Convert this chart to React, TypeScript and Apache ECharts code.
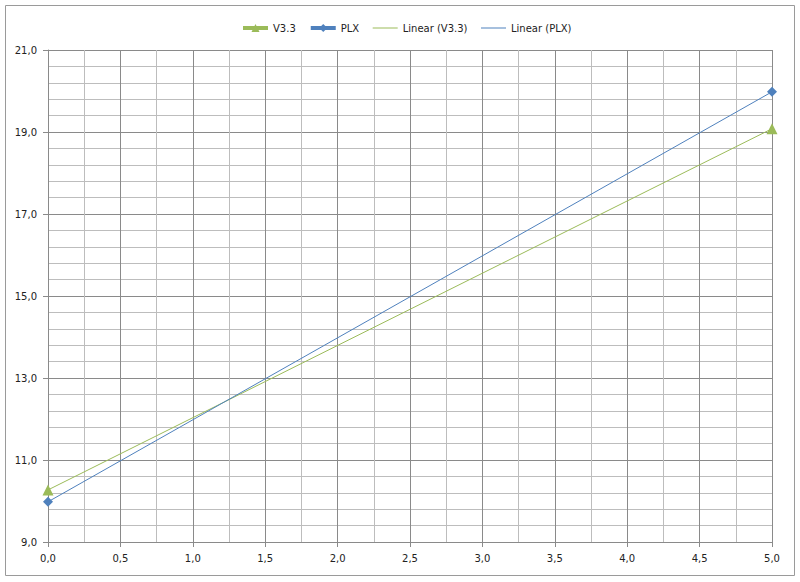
import React, { useEffect, useRef } from "react";
import * as echarts from "echarts";

const xValues = [0, 5];
const v33Values = [10.27, 19.08];
const plxValues = [9.98, 19.98];
const v33Trend = [10.27, 19.08];
const plxTrend = [9.98, 19.98];

const GREEN = "#9BBB59";
const BLUE = "#4F81BD";
const FONT = "DejaVu Sans";

const fmt = (v: number) => v.toFixed(1).replace(".", ",");

export default function App() {
  const ref = useRef<HTMLDivElement>(null);
  useEffect(() => {
    document.body.style.margin = "0";
    const chart = echarts.init(ref.current!, null, { renderer: "svg" });
    const pair = (ys: number[]) => xValues.map((x, i) => [x, ys[i]]);
    chart.setOption({
      animation: false,
      backgroundColor: "#ffffff",
      graphic: [
        {
          type: "rect",
          shape: { x: 5.5, y: 5.5, width: 789, height: 570 },
          style: { fill: "none", stroke: "#9a9a9a", lineWidth: 1 },
          silent: true,
        },
      ],
      legend: {
        top: 18,
        left: 236,
        itemWidth: 25,
        itemHeight: 10,
        itemGap: 13,
        textStyle: { fontFamily: FONT, fontSize: 10, color: "#222" },
        data: [
          { name: "V3.3", lineStyle: { width: 4, opacity: 1, color: GREEN } },
          { name: "PLX", lineStyle: { width: 4, opacity: 1, color: BLUE } },
          {
            name: "Linear (V3.3)",
            lineStyle: { width: 1, opacity: 1, color: GREEN },
            itemStyle: { opacity: 0 },
          },
          {
            name: "Linear (PLX)",
            lineStyle: { width: 1, opacity: 1, color: BLUE },
            itemStyle: { opacity: 0 },
          },
        ],
      },
      grid: { left: 48, right: 28, top: 50, bottom: 40, containLabel: false },
      xAxis: {
        type: "value",
        min: 0,
        max: 5,
        interval: 0.5,
        axisLine: { show: true, lineStyle: { color: "#8a8a8a", width: 1 } },
        axisTick: { show: true, length: 5, lineStyle: { color: "#8a8a8a" } },
        axisLabel: {
          formatter: fmt,
          margin: 11,
          fontFamily: FONT,
          fontSize: 10,
          color: "#222",
        },
        splitLine: { show: true, lineStyle: { color: "#8a8a8a", width: 1 } },
        minorTick: { show: false, splitNumber: 2 },
        minorSplitLine: { show: true, lineStyle: { color: "#bdbdbd", width: 1 } },
      },
      yAxis: {
        type: "value",
        min: 9,
        max: 21,
        interval: 2,
        axisLine: { show: true, lineStyle: { color: "#8a8a8a", width: 1 } },
        axisTick: { show: true, length: 5, lineStyle: { color: "#8a8a8a" } },
        axisLabel: {
          formatter: fmt,
          margin: 11,
          fontFamily: FONT,
          fontSize: 10,
          color: "#222",
        },
        splitLine: { show: true, lineStyle: { color: "#8a8a8a", width: 1 } },
        minorTick: { show: false, splitNumber: 5 },
        minorSplitLine: { show: true, lineStyle: { color: "#bdbdbd", width: 1 } },
      },
      series: [
        {
          name: "Linear (V3.3)",
          type: "line",
          data: pair(v33Trend),
          symbol: "none",
          color: GREEN,
          lineStyle: { width: 1, color: GREEN },
          z: 2,
        },
        {
          name: "Linear (PLX)",
          type: "line",
          data: pair(plxTrend),
          symbol: "none",
          color: BLUE,
          lineStyle: { width: 1, color: BLUE },
          z: 2,
        },
        {
          name: "V3.3",
          type: "line",
          data: pair(v33Values),
          symbol: "triangle",
          symbolSize: 11,
          showSymbol: true,
          color: GREEN,
          itemStyle: { color: GREEN },
          lineStyle: { width: 4, opacity: 0, color: GREEN },
          z: 5,
        },
        {
          name: "PLX",
          type: "line",
          data: pair(plxValues),
          symbol: "diamond",
          symbolSize: 10,
          showSymbol: true,
          color: BLUE,
          itemStyle: { color: BLUE },
          lineStyle: { width: 4, opacity: 0, color: BLUE },
          z: 5,
        },
      ],
    });
    return () => chart.dispose();
  }, []);
  return <div ref={ref} style={{ width: 800, height: 582 }} />;
}
